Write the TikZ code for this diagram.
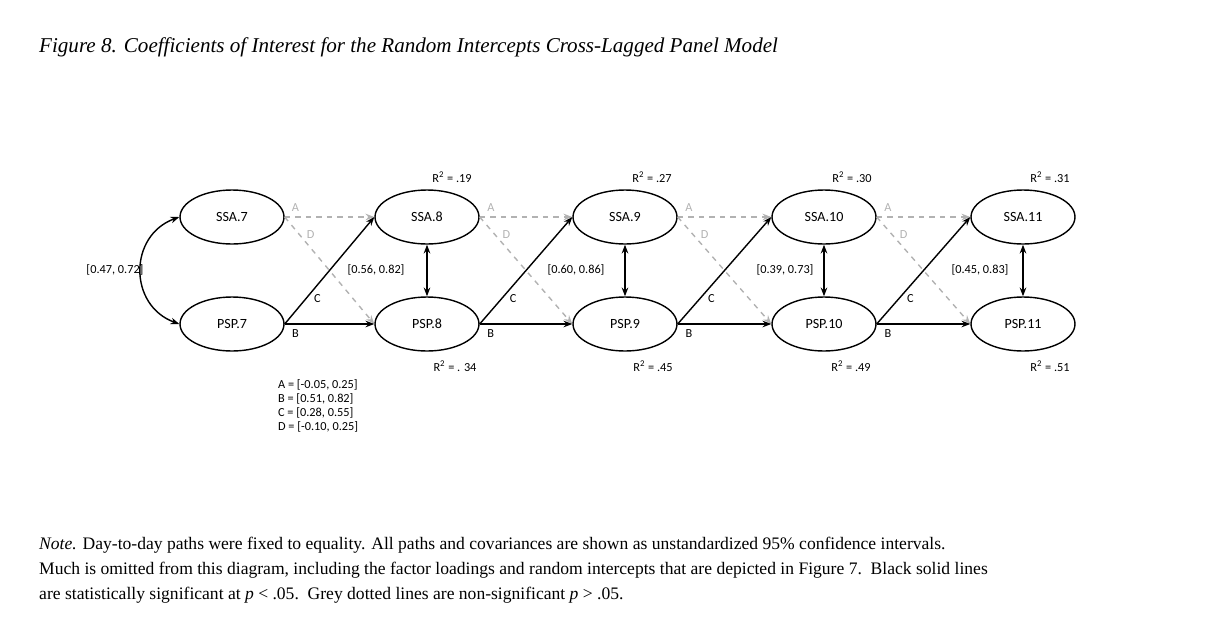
\documentclass[tikz,border=0pt]{standalone}
\usepackage{fontspec}
\setmainfont{Liberation Serif}
\newfontfamily\diag{Carlito}
\usetikzlibrary{positioning,arrows.meta,shapes.geometric}
\begin{document}
\begin{tikzpicture}[x=0.02cm,y=-0.02cm,
    lat/.style={draw,thick,ellipse,minimum width=2.08cm,minimum height=1.08cm,font=\diag\footnotesize},
    sig/.style={thick,-{Stealth[length=5pt]}},
    nsig/.style={thick,gray!60,dashed,-{Stealth[length=5pt]}},
    lab/.style={font=\diag\scriptsize,inner sep=1pt}]
    \useasboundingbox (0,0) rectangle (1215,616);
    % Title
    \node[anchor=west,font=\itshape\large] at (33,47) {Figure 8. Coefficients of Interest for the Random Intercepts Cross-Lagged Panel Model};
    % Latent variables
    \foreach \i/\x in {7/232,8/427,9/625,10/824,11/1023} {
        \node[lat] (ssa\i) at (\x,217) {SSA.\i};
        \node[lat] (psp\i) at (\x,324) {PSP.\i};
    }
    % Paths
    \foreach \i/\j in {7/8,8/9,9/10,10/11} {
        \draw[nsig] (ssa\i.east) -- node[lab,pos=0.12,above=2pt] {A} (ssa\j.west);
        \draw[nsig] (ssa\i.east) -- node[lab,pos=0.22,above right] {D} (psp\j.west);
        \draw[sig] (psp\i.east) -- node[lab,pos=0.3,below right] {C} (ssa\j.west);
        \draw[sig] (psp\i.east) -- node[lab,pos=0.12,below=2pt] {B} (psp\j.west);
        \draw[thick,{Stealth[length=5pt]}-{Stealth[length=5pt]}] (ssa\j) -- (psp\j);
    }
    \draw[thick,{Stealth[length=5pt]}-{Stealth[length=5pt]}] (ssa7.west) to[out=200,in=160,looseness=1.3] (psp7.west);
    % Covariances
    \node[lab] at (115,270) {[0.47, 0.72]};
    \foreach \x/\t in {376/{[0.56, 0.82]},576/{[0.60, 0.86]},785/{[0.39, 0.73]},980/{[0.45, 0.83]}}
        \node[lab] at (\x,270) {\t};
    % R squared
    \foreach \x/\t in {452/.19,652/.27,852/.30,1050/.31}
        \node[lab] at (\x,177) {R\textsuperscript{2} = \t};
    \foreach \x/\t in {455/{. 34},653/.45,851/.49,1050/.51}
        \node[lab] at (\x,366) {R\textsuperscript{2} = \t};
    % Legend
    \node[lab,anchor=north west,align=left] at (276,377) {A = [-0.05, 0.25]\\B = [0.51, 0.82]\\C = [0.28, 0.55]\\D = [-0.10, 0.25]};
    % Note
    \node[anchor=west] at (33,545) {\textit{Note.} Day-to-day paths were fixed to equality. All paths and covariances are shown as unstandardized 95\% confidence intervals.};
    \node[anchor=west] at (33,570) {Much is omitted from this diagram, including the factor loadings and random intercepts that are depicted in Figure 7.\ \ Black solid lines};
    \node[anchor=west] at (33,595) {are statistically significant at \textit{p} < .05.\ \ Grey dotted lines are non-significant \textit{p} > .05.};
\end{tikzpicture}
\end{document}
